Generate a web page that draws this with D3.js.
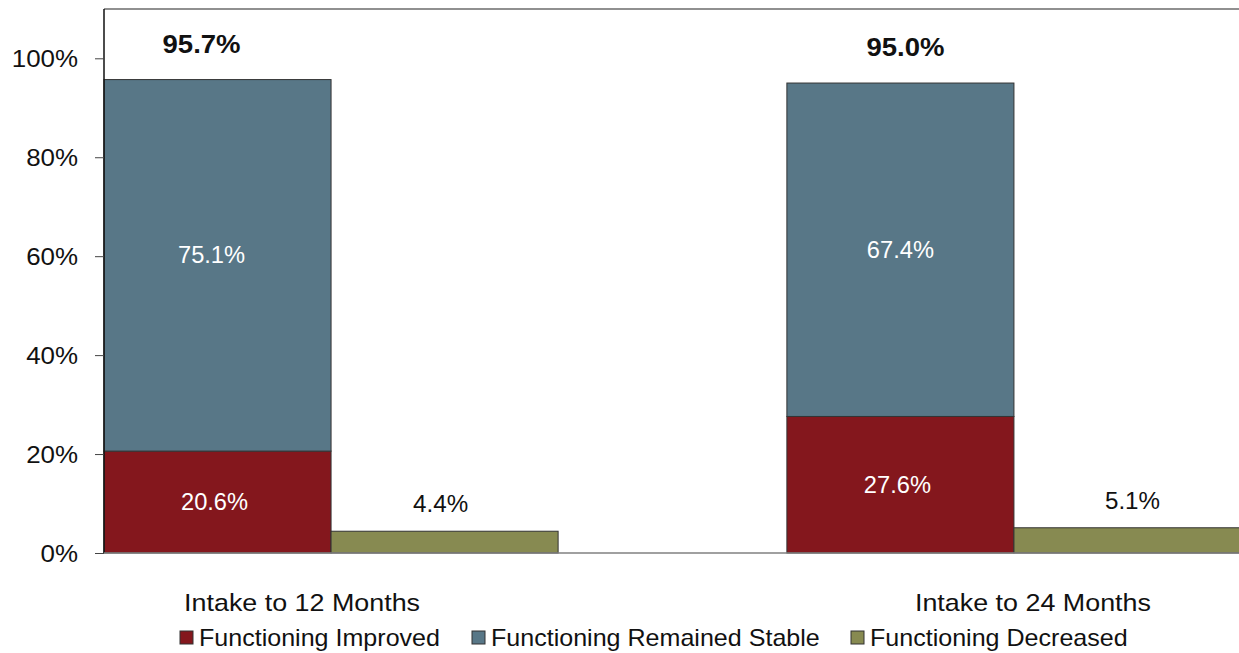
<!DOCTYPE html>
<html>
<head>
<meta charset="utf-8">
<script src="https://cdn.jsdelivr.net/npm/d3@7/dist/d3.min.js"></script>
<style>
  html, body { margin: 0; padding: 0; background: #fff; }
  svg { display: block; font-family: "Liberation Sans", Arial, sans-serif; }
</style>
</head>
<body>
<svg id="chart" width="1239" height="653"></svg>
<script>
// Functioning change from intake, by follow-up period (percent of clients)
const periods = ["Intake to 12 Months", "Intake to 24 Months"];
const improved = [20.6, 27.6];
const stable = [75.1, 67.4];
const decreased = [4.4, 5.1];
const totals = [95.7, 95.0];
const seriesNames = ["Functioning Improved", "Functioning Remained Stable", "Functioning Decreased"];
const yTicks = [0, 20, 40, 60, 80, 100];

const colors = {
  improved: "#84171D",
  stable: "#587787",
  decreased: "#878A51"
};

const svg = d3.select("#chart");
const W = 1239, H = 653;
const plot = { left: 104, top: 9, right: 1241, bottom: 553 };

const y = d3.scaleLinear().domain([0, 100]).range([plot.bottom, 58.3]);
const x0 = d3.scaleBand().domain(periods).range([plot.left, plot.right])
  .paddingInner(0.335).paddingOuter(0);
const x1 = d3.scaleBand().domain(["stack", "dec"]).range([0, x0.bandwidth()]);

// text placed at (x, y) and widened horizontally by factor k
function placeText(sel, x, yy, k) {
  return sel.attr("transform", `translate(${x},${yy}) scale(${k},1)`);
}

// frame: top rule
svg.append("line").attr("x1", plot.left).attr("x2", W).attr("y1", plot.top).attr("y2", plot.top)
  .attr("stroke", "#222").attr("stroke-width", 1.2);

// bars and their labels
const g = svg.append("g");
const stableNudge = [-10, 0];
periods.forEach((p, i) => {
  const bx = x0(p);
  // improved (bottom of stack)
  g.append("rect")
    .attr("x", bx + x1("stack")).attr("width", x1.bandwidth())
    .attr("y", y(improved[i])).attr("height", y(0) - y(improved[i]))
    .attr("fill", colors.improved).attr("stroke", "#333").attr("stroke-width", 1);
  // stable (stacked on improved)
  g.append("rect")
    .attr("x", bx + x1("stack")).attr("width", x1.bandwidth())
    .attr("y", y(improved[i] + stable[i])).attr("height", y(improved[i]) - y(improved[i] + stable[i]))
    .attr("fill", colors.stable).attr("stroke", "#333").attr("stroke-width", 1);
  // decreased
  g.append("rect")
    .attr("x", bx + x1("dec")).attr("width", x1.bandwidth())
    .attr("y", y(decreased[i])).attr("height", y(0) - y(decreased[i]))
    .attr("fill", colors.decreased).attr("stroke", "#333").attr("stroke-width", 1);

  const cx = bx + x1("stack") + x1.bandwidth() / 2;
  const dx = bx + x1("dec") + x1.bandwidth() / 2;

  placeText(g.append("text"), cx - 3, y(improved[i] / 2) + 8, 1.03)
    .attr("text-anchor", "middle").attr("font-size", 23).attr("fill", "#fff")
    .text(improved[i].toFixed(1) + "%");
  placeText(g.append("text"), cx - 6 + 6 * i, y(improved[i] + stable[i] / 2) + 8 + stableNudge[i], 1.03)
    .attr("text-anchor", "middle").attr("font-size", 23).attr("fill", "#fff")
    .text(stable[i].toFixed(1) + "%");
  placeText(g.append("text"), dx - 4 + 9 * i, y(decreased[i]) - 19, 1.05)
    .attr("text-anchor", "middle").attr("font-size", 23).attr("fill", "#111")
    .text(decreased[i].toFixed(1) + "%");
  placeText(g.append("text"), cx + (i === 0 ? -16 : 5), y(totals[i]) - 27, 1.1)
    .attr("text-anchor", "middle").attr("font-size", 25).attr("font-weight", "bold").attr("fill", "#111")
    .text(totals[i].toFixed(1) + "%");
});

// y axis
const tickStretch = 1.08;
const yAxis = svg.append("g").attr("transform", `translate(${plot.left},0)`)
  .call(d3.axisLeft(y).tickValues(yTicks).tickSize(9).tickPadding(8).tickFormat(d => d + "%"));
yAxis.select(".domain").attr("stroke", "#111").attr("stroke-width", 1.5)
  .attr("d", `M0,${plot.top}V${plot.bottom}`);
yAxis.selectAll(".tick line").attr("stroke", "#444");
yAxis.selectAll(".tick text")
  .attr("font-size", 24).attr("fill", "#111").attr("font-family", "Liberation Sans, Arial, sans-serif")
  .attr("dy", "0.35em")
  .attr("transform", `scale(${tickStretch},1)`)
  .attr("x", -26 / tickStretch);

// baseline
svg.append("line").attr("x1", plot.left).attr("x2", W).attr("y1", y(0)).attr("y2", y(0))
  .attr("stroke", "#808080").attr("stroke-width", 1.5);

// category labels
const catOffsets = [-29, 19];
periods.forEach((p, i) => {
  placeText(svg.append("text"), x0(p) + x0.bandwidth() / 2 + catOffsets[i], 611, 1.12)
    .attr("text-anchor", "middle").attr("font-size", 24).attr("fill", "#111").text(p);
});

// legend
const legendX = [180, 472, 851];
const legendColors = [colors.improved, colors.stable, colors.decreased];
seriesNames.forEach((name, i) => {
  svg.append("rect").attr("x", legendX[i]).attr("y", 631).attr("width", 13).attr("height", 13)
    .attr("fill", legendColors[i]).attr("stroke", "#333").attr("stroke-width", 1);
  placeText(svg.append("text"), legendX[i] + 19, 646, 1.09)
    .attr("font-size", 23).attr("fill", "#111").text(name);
});
</script>
</body>
</html>
